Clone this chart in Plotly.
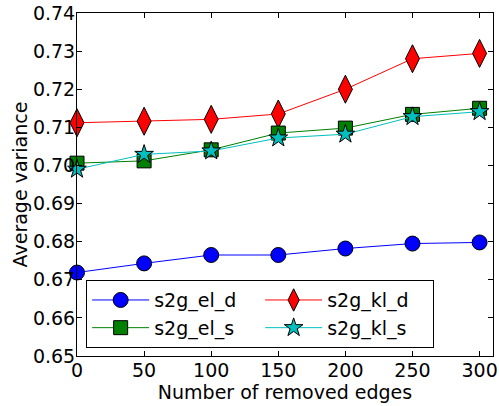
import plotly.graph_objects as go

edges = [0, 50, 100, 150, 200, 250, 300]
s2g_el_d = [0.6719, 0.6743, 0.6765, 0.6765, 0.6782, 0.6795, 0.6798]
s2g_kl_d = [0.7112, 0.7116, 0.7121, 0.7135, 0.7200, 0.7280, 0.7294]
s2g_el_s = [0.7006, 0.7012, 0.7041, 0.7085, 0.7098, 0.7134, 0.7150]
s2g_kl_s = [0.6990, 0.7029, 0.7038, 0.7072, 0.7082, 0.7128, 0.7141]

series = [
    ("s2g_el_d", s2g_el_d, "blue", "circle", 15),
    ("s2g_kl_d", s2g_kl_d, "red", "diamond-tall", 20),
    ("s2g_el_s", s2g_el_s, "green", "square", 14),
    ("s2g_kl_s", s2g_kl_s, "#00BFBF", "star", 14),
]

fig = go.Figure()
for name, vals, color, sym, size in series:
    fig.add_trace(go.Scatter(
        x=edges, y=vals, name=name, mode="lines+markers",
        line=dict(color=color, width=1),
        marker=dict(symbol=sym, size=size, color=color, line=dict(color="black", width=1)),
        cliponaxis=False,
    ))

font = dict(family="DejaVu Sans", size=19, color="black")
axis_common = dict(showgrid=False, zeroline=False, showline=True, linecolor="black", linewidth=1,
                   mirror="ticks", ticks="inside", ticklen=5, tickcolor="black", tickfont=font,
                   automargin=False, ticklabeloverflow="allow")
fig.update_xaxes(range=[0, 310], tickvals=[0, 50, 100, 150, 200, 250, 300], ticklabelstandoff=-3,
                 title=dict(text="Number of removed edges", font=font, standoff=0), **axis_common)
fig.update_yaxes(range=[0.65, 0.74], tickvals=[0.65, 0.66, 0.67, 0.68, 0.69, 0.70, 0.71, 0.72, 0.73, 0.74],
                 tickformat=".2f", ticklabelstandoff=-3,
                 title=dict(text="Average variance", font=font, standoff=0), **axis_common)

fig.update_layout(
    width=499, height=406,
    margin=dict(l=77, r=6, t=13, b=50),
    plot_bgcolor="white", paper_bgcolor="white",
    font=font,
    legend=dict(orientation="h", x=0.022, y=0.023, xanchor="left", yanchor="bottom",
                bordercolor="black", borderwidth=1, bgcolor="white",
                entrywidth=101, font=font, itemwidth=57, tracegroupgap=0),
)
fig.write_html("out.html", config={"displayModeBar": False},
               post_script="document.body.style.margin='0';document.body.style.overflow='hidden';")
